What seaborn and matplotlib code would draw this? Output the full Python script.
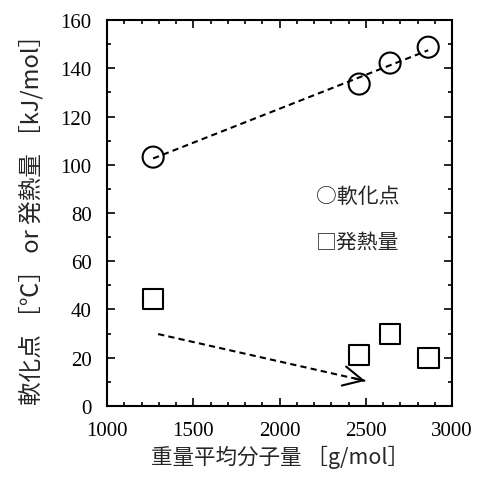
"""
Softening point and heat of reaction vs. weight-average molecular weight.
"""

import numpy as np
import pandas as pd
import seaborn as sns
import matplotlib.pyplot as plt

sns.set_theme(style="ticks")
plt.rcParams["font.family"] = ["Liberation Serif", "Noto Sans CJK JP", "DejaVu Sans"]
SAVE_AS = "out.png"

# Data
mw = [1267, 2461, 2640, 2861]
softening_point = [103.2, 133.5, 142.2, 148.8]
heat = [44.4, 21.1, 29.8, 19.9]
trend_start = (1296, 29.8)
trend_end = (2496, 10.4)

CJK = ["Noto Sans CJK JP", "DejaVu Sans"]


def plot(save_as):
    df = pd.DataFrame({"mw": mw, "sp": softening_point, "heat": heat})

    fig = plt.figure(figsize=(4.78, 4.81), dpi=100)
    ax = fig.add_axes([0.224, 0.154, 0.722, 0.802])

    sns.regplot(data=df, x="mw", y="sp", ax=ax, ci=None, scatter=False,
                line_kws={"color": "black", "ls": "--", "lw": 1.5, "dashes": (3, 2)})
    sns.scatterplot(data=df, x="mw", y="sp", ax=ax, marker="o", s=230,
                    facecolor="none", edgecolor="black", linewidth=1.5, zorder=3)
    sns.scatterplot(data=df, x="mw", y="heat", ax=ax, marker="s", s=220,
                    facecolor="none", edgecolor="black", linewidth=1.5, zorder=3)

    # decreasing-trend arrow
    ax.plot([trend_start[0], trend_end[0]], [trend_start[1], trend_end[1]],
            color="black", ls="--", lw=1.5, dashes=(3, 2))
    ax.annotate("", xy=trend_end, xytext=(trend_end[0] - 60, trend_end[1] + 0.97),
                arrowprops=dict(arrowstyle="->,head_length=0.7,head_width=0.35",
                                mutation_scale=20, color="black", lw=1.5,
                                shrinkA=0, shrinkB=0))

    ax.text(2212, 87, "○軟化点", fontsize=15, family=CJK, va="center")
    ax.text(2212, 68, "□発熱量", fontsize=15, family=CJK, va="center")

    ax.set_xlim(1000, 3000)
    ax.set_ylim(0, 160)
    ax.set_xticks(np.arange(1000, 3001, 500))
    ax.set_xticks(np.arange(1000, 3001, 100), minor=True)
    ax.set_yticks(np.arange(0, 161, 20))
    ax.set_yticks(np.arange(0, 161, 10), minor=True)
    ax.tick_params(which="both", direction="in", top=True, right=True,
                   color="black", width=1.2, labelsize=15, labelcolor="black")
    ax.tick_params(which="major", length=6, pad=11)
    ax.tick_params(which="minor", length=3)
    for s in ax.spines.values():
        s.set_linewidth(1.5)
        s.set_color("black")

    ax.set_xlabel("重量平均分子量 ［g/mol］", fontsize=15.5, family=CJK, labelpad=3)
    ax.set_ylabel("軟化点 ［℃］ or 発熱量 ［kJ/mol］", fontsize=17, family=CJK, labelpad=12)

    fig.savefig(save_as, dpi=100)


if __name__ == "__main__":
    plot(SAVE_AS)
